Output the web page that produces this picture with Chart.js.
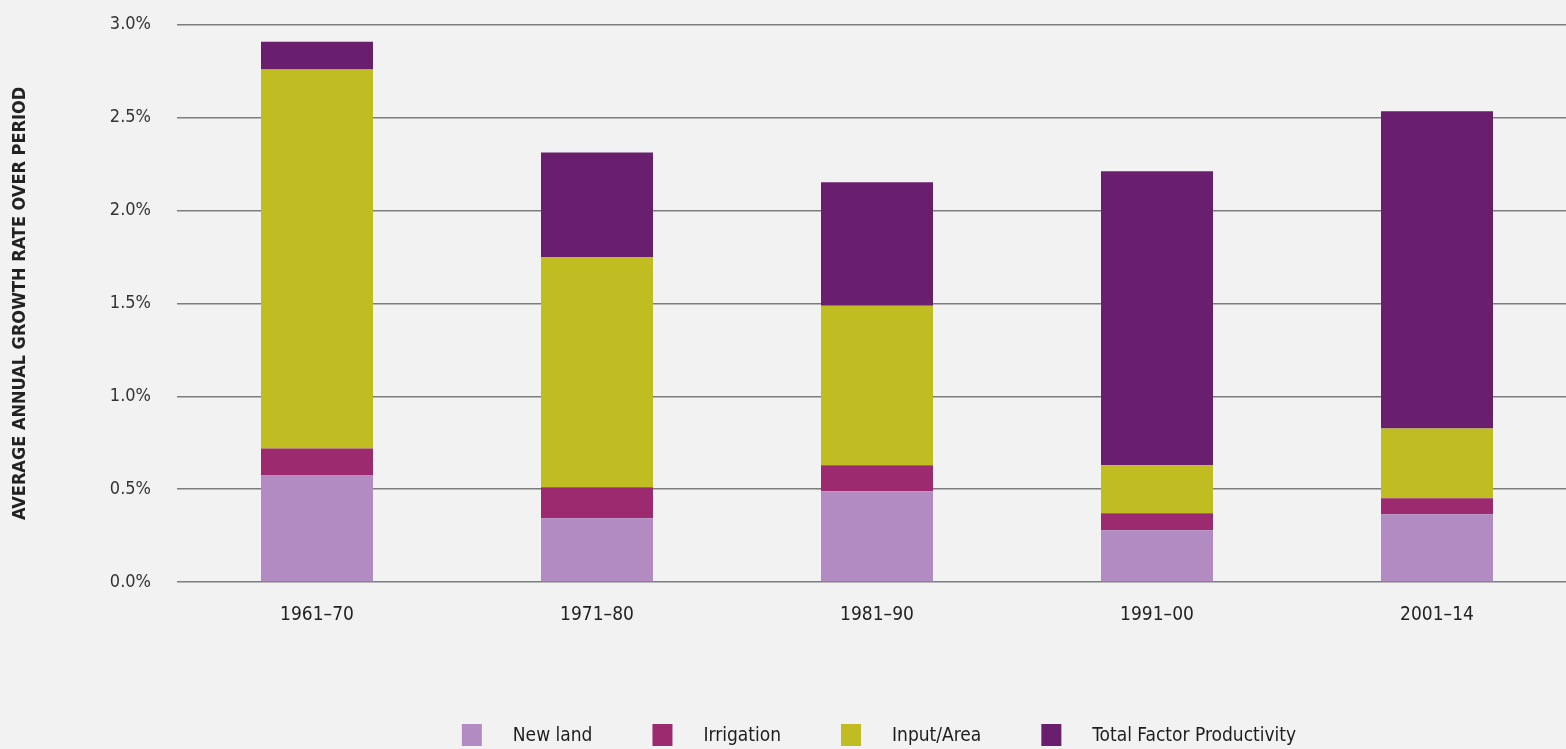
<!DOCTYPE html>
<html>
<head>
<meta charset="utf-8">
<script src="https://cdn.jsdelivr.net/npm/chart.js@4"></script>
<style>
html,body{margin:0;padding:0;background:#f2f2f2;overflow:hidden;}
#wrap{width:1566px;height:749px;position:relative;overflow:hidden;}
#c{position:absolute;left:0;top:-12px;}
</style>
</head>
<body>
<div id="wrap"><canvas id="c" width="1577" height="761"></canvas></div>
<script>
const categories = ["1961–70", "1971–80", "1981–90", "1991–00", "2001–14"];
const newLand    = [0.574, 0.343, 0.488, 0.279, 0.365];
const irrigation = [0.145, 0.167, 0.140, 0.091, 0.086];
const inputArea  = [2.040, 1.240, 0.859, 0.258, 0.376];
const tfp        = [0.150, 0.563, 0.665, 1.583, 1.707];
const yTicks = [0, 0.5, 1.0, 1.5, 2.0, 2.5, 3.0];

const FONT = "'DejaVu Sans Condensed', 'Liberation Sans Narrow', sans-serif";

const legendPlugin = {
  id: 'customLegend',
  afterDraw(chart) {
    const ctx = chart.ctx;
    const ds = chart.data.datasets;
    ctx.save();
    ctx.font = '19px ' + FONT;
    const boxW = 20, boxH = 22, gapText = 31, gapItem = 60;
    const widths = ds.map(d => boxW + gapText + ctx.measureText(d.label).width);
    const total = widths.reduce((a, b) => a + b, 0) + gapItem * (ds.length - 1);
    let x = 879 - total / 2;
    const cy = 747;
    ds.forEach((d, i) => {
      ctx.fillStyle = d.backgroundColor;
      ctx.fillRect(x, cy - boxH / 2, boxW, boxH);
      ctx.fillStyle = '#1e1e1e';
      ctx.textBaseline = 'middle';
      ctx.textAlign = 'left';
      ctx.fillText(d.label, x + boxW + gapText, cy + 1);
      x += widths[i] + gapItem;
    });
    ctx.restore();
  }
};

new Chart(document.getElementById('c'), {
  type: 'bar',
  data: {
    labels: categories,
    datasets: [
      {label: 'New land', data: newLand, backgroundColor: '#b38bc3'},
      {label: 'Irrigation', data: irrigation, backgroundColor: '#9b2a6f'},
      {label: 'Input/Area', data: inputArea, backgroundColor: '#bfbd22'},
      {label: 'Total Factor Productivity', data: tfp, backgroundColor: '#691f6d'}
    ]
  },
  options: {
    responsive: false,
    animation: false,
    devicePixelRatio: 1,
    layout: {padding: {top: 0, right: 0, bottom: 0, left: 0}},
    datasets: {bar: {categoryPercentage: 0.8, barPercentage: 0.5, borderWidth: 0}},
    plugins: {
      tooltip: {enabled: false},
      legend: {display: false}
    },
    scales: {
      x: {
        stacked: true,
        grid: {display: false, drawTicks: false},
        border: {display: false},
        ticks: {color: '#222', font: {family: FONT, size: 19}, padding: 22},
        afterFit(s) { s.height = 167; }
      },
      y: {
        stacked: true,
        min: 0, max: 3.0,
        afterBuildTicks(s) { s.ticks = yTicks.map(v => ({value: v})); },
        grid: {color: '#7d7d7d', lineWidth: 1.4, drawTicks: false},
        border: {display: false},
        ticks: {
          color: '#333',
          font: {family: FONT, size: 18},
          padding: 26,
          callback: v => v.toFixed(1) + '%'
        },
        title: {
          display: true,
          text: 'AVERAGE ANNUAL GROWTH RATE OVER PERIOD',
          color: '#222',
          font: {family: FONT, size: 18, weight: 'bold'},
          padding: {top: 10, bottom: 0}
        },
        afterFit(s) { s.width = 177; }
      }
    }
  },
  plugins: [{
    id: 'bg',
    beforeDraw(chart) {
      const ctx = chart.ctx;
      ctx.save();
      ctx.fillStyle = '#f2f2f2';
      ctx.fillRect(0, 0, chart.width, chart.height);
      ctx.restore();
    }
  }, legendPlugin]
});
</script>
</body>
</html>
